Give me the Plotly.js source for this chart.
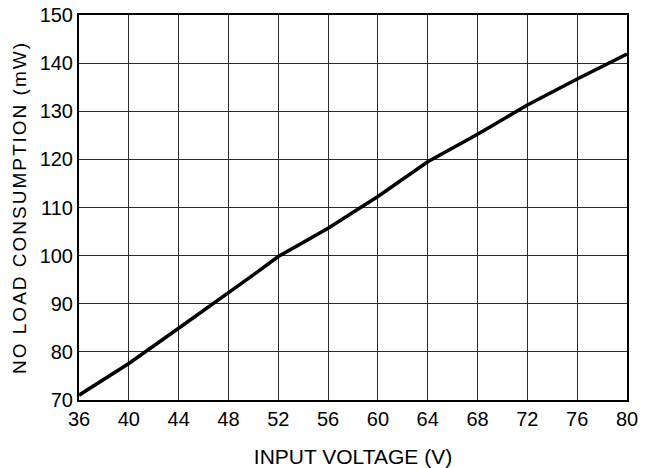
<!DOCTYPE html>
<html>
<head>
<meta charset="utf-8">
<script src="https://cdn.plot.ly/plotly-3.0.1.min.js"></script>
<style>
html, body { margin: 0; padding: 0; background: #fff; }
#chart { width: 645px; height: 468px; }
.ytitle { letter-spacing: 2px; }
</style>
</head>
<body>
<div id="chart"></div>
<script>
// Input voltage (V)
const inputVoltage = [36, 40, 44, 48, 50, 52, 56, 60, 64, 68, 72, 76, 80];
// No load consumption (mW)
const consumption = [71.0, 77.6, 84.9, 92.2, 96.0, 99.8, 105.7, 112.3, 119.5, 125.2, 131.3, 136.7, 141.9];

const xTicks = [36, 40, 44, 48, 52, 56, 60, 64, 68, 72, 76, 80];
const yTicks = [70, 80, 90, 100, 110, 120, 130, 140, 150];

const fontFam = '"Liberation Sans", Arial, Helvetica, sans-serif';

const trace = {
  x: inputVoltage,
  y: consumption,
  type: 'scatter',
  mode: 'lines',
  line: { color: '#000', width: 3.5 },
  hoverinfo: 'skip'
};

const layout = {
  width: 645,
  height: 468,
  margin: { l: 79, r: 18, t: 15, b: 68 },
  paper_bgcolor: '#fff',
  plot_bgcolor: '#fff',
  showlegend: false,
  font: { family: fontFam, color: '#000' },
  xaxis: {
    range: [36, 80],
    tickmode: 'array',
    tickvals: xTicks,
    ticktext: xTicks.map(String),
    ticks: '',
    showgrid: true,
    gridcolor: '#2a2a2a',
    gridwidth: 1,
    zeroline: false,
    showline: true,
    mirror: true,
    linecolor: '#000',
    linewidth: 2,
    tickfont: { family: fontFam, size: 20, color: '#000' },
    automargin: false,
    title: { text: 'INPUT VOLTAGE (V)', font: { family: fontFam, size: 21, color: '#000' }, standoff: 20 }
  },
  yaxis: {
    range: [70, 150],
    tickmode: 'array',
    tickvals: yTicks,
    ticktext: yTicks.map(String),
    ticks: '',
    showgrid: true,
    gridcolor: '#2a2a2a',
    gridwidth: 1,
    zeroline: false,
    showline: true,
    mirror: true,
    linecolor: '#000',
    linewidth: 2,
    tickfont: { family: fontFam, size: 20, color: '#000' },
    automargin: false,
    title: { text: 'NO LOAD CONSUMPTION (mW)', font: { family: fontFam, size: 19, color: '#000' }, standoff: 8 }
  }
};

Plotly.newPlot('chart', [trace], layout, { staticPlot: true, displayModeBar: false });
</script>
</body>
</html>
